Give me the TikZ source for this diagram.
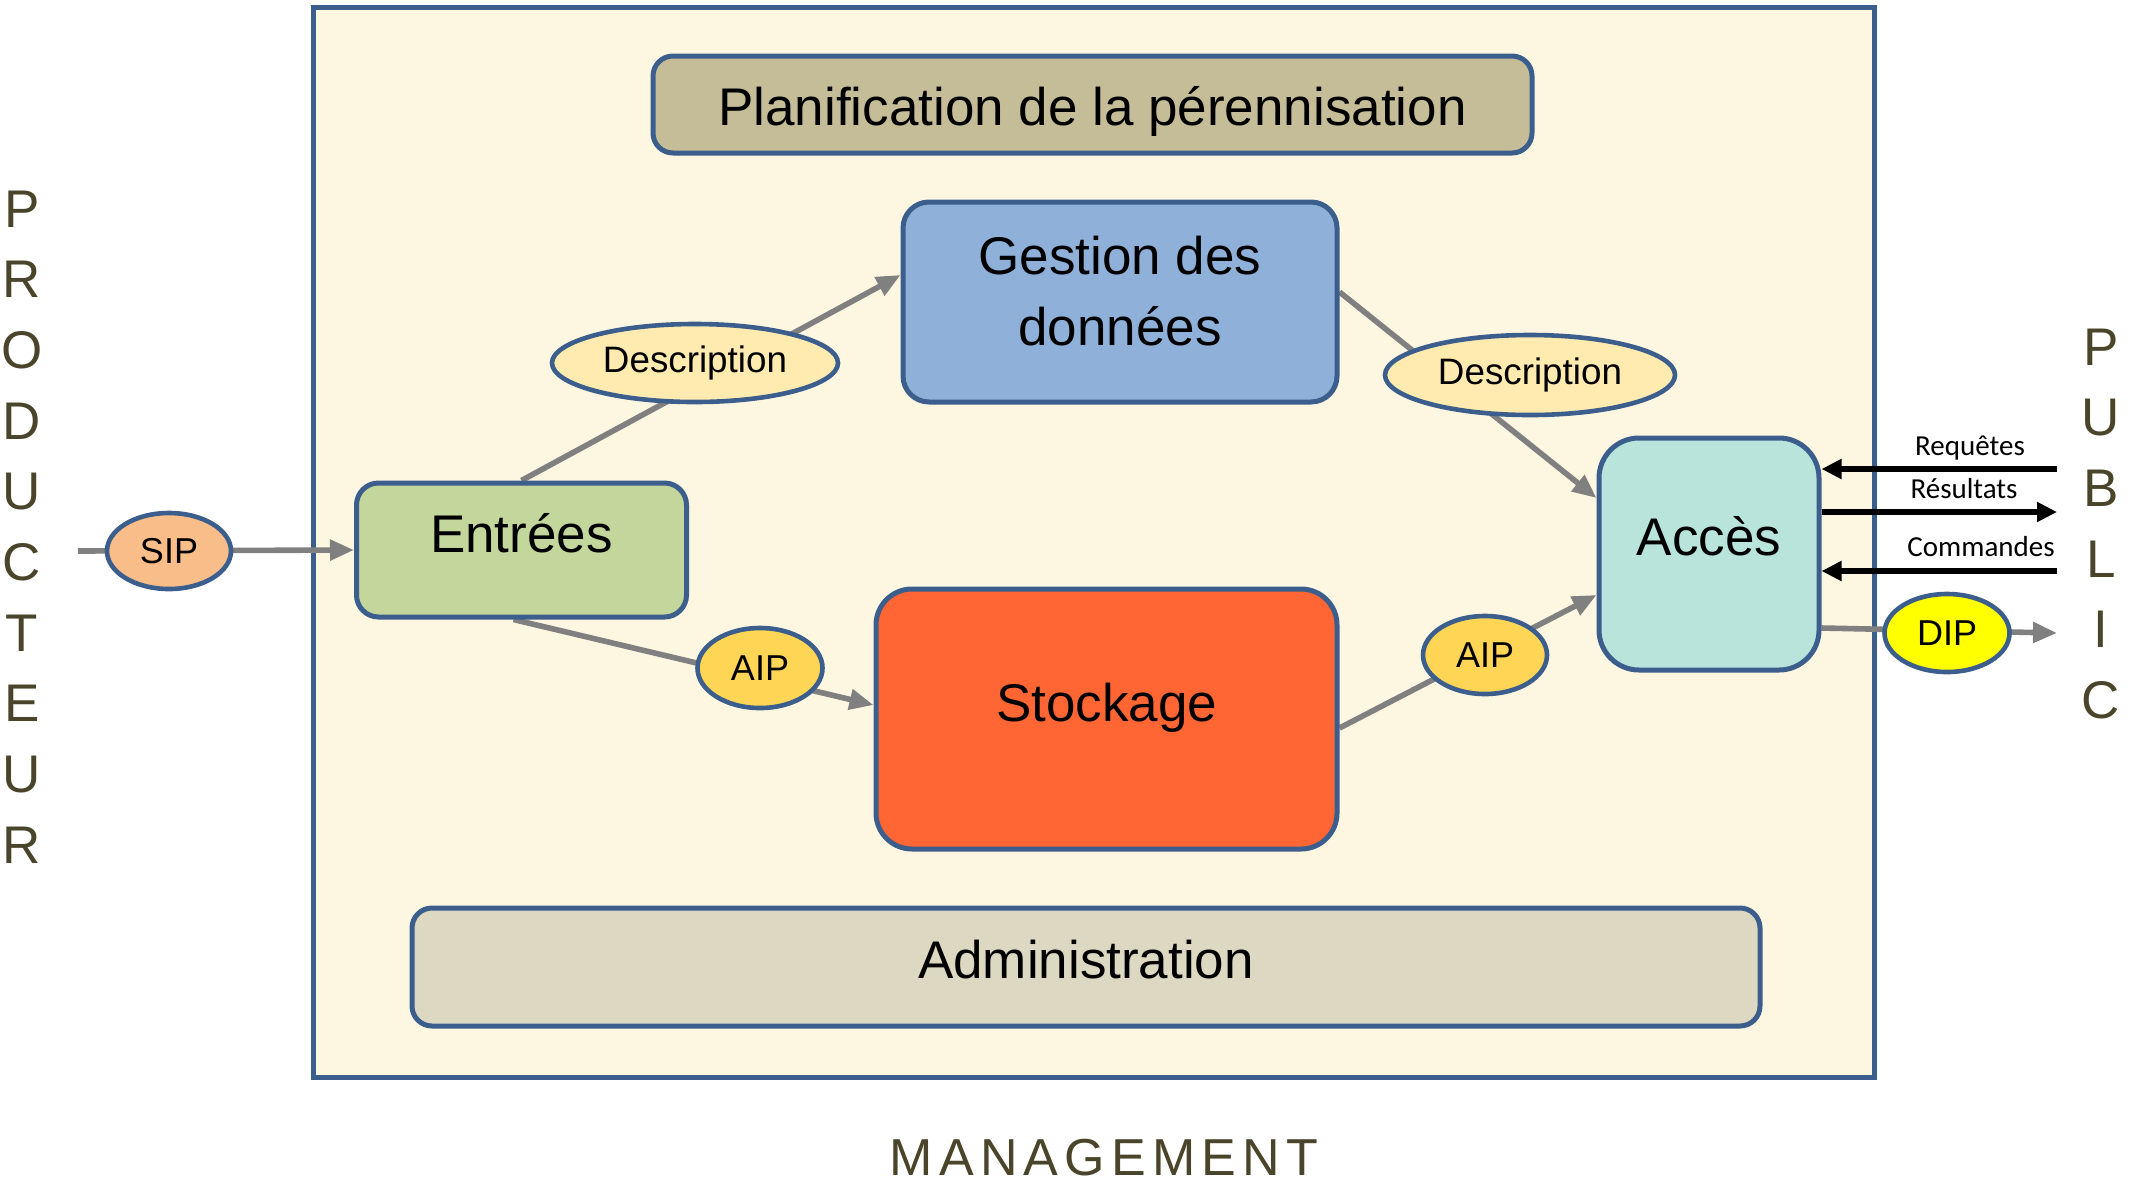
\documentclass[tikz,border=0pt]{standalone}
\usepackage{fontspec}
\setmainfont{Liberation Sans}
\newfontfamily\labelfont{Carlito}
\usetikzlibrary{arrows.meta,shapes.geometric}
\definecolor{frameblue}{HTML}{3B5E8C}
\definecolor{cream}{HTML}{FDF7E1}
\definecolor{planifc}{HTML}{C4BD97}
\definecolor{gestionc}{HTML}{8FB0D8}
\definecolor{entreesc}{HTML}{C3D69B}
\definecolor{stockc}{HTML}{FF6633}
\definecolor{accesc}{HTML}{B8E4DC}
\definecolor{adminc}{HTML}{DDD8C1}
\definecolor{descc}{HTML}{FFEBB0}
\definecolor{aipc}{HTML}{FFD556}
\definecolor{sipc}{HTML}{F9BD8A}
\definecolor{dipc}{HTML}{FFFF00}
\definecolor{olive}{HTML}{4A452A}
\definecolor{arrowgray}{HTML}{808080}
\newcommand\raisetext[2]{\raisebox{#1}[\height][\depth]{#2}}
\pgfdeclarelayer{bg}
\pgfdeclarelayer{edges}
\pgfsetlayers{bg,edges,main}
\tikzset{
  box/.style={draw=frameblue, line width=2.5pt, rounded corners=#1, inner sep=0pt,
    font=\fontsize{26.5}{35.5}\selectfont, align=center},
  box/.default=10pt,
  oval/.style={ellipse, draw=frameblue, line width=2.3pt, inner sep=0pt,
    font=\fontsize{18}{20}\selectfont},
  garrow/.style={draw=arrowgray, line width=2.8pt, -{Triangle[length=12pt,width=10pt]}},
  barrow/.style={draw=black, line width=3pt, -{Triangle[length=10pt,width=9.5pt]}},
  letter/.style={text=olive, font=\fontsize{26.5}{30}\selectfont, anchor=base, inner sep=0pt},
  flowlabel/.style={font=\labelfont\fontsize{14.5}{16}\selectfont, anchor=base, inner sep=0pt}
}
\begin{document}
\begin{tikzpicture}[x=0.5pt,y=-0.5pt]
\useasboundingbox (0,0) rectangle (2134,1184);
\begin{pgfonlayer}{bg}
  \draw[draw=frameblue, fill=cream, line width=2.5pt] (313,7) rectangle (1874,1077);
\end{pgfonlayer}

% boxes
\node[box=10pt, fill=planifc, minimum width=439.5pt, minimum height=48.5pt] (planif) at (1092.5,104.5) {\raisetext{-3.5pt}{Planification de la pérennisation}};
\node[box=13pt, fill=gestionc, minimum width=217pt, minimum height=100pt] (gestion) at (1120,302)
  {\raisebox{3pt}[\height][\depth]{\begin{tabular}{@{}c@{}}Gestion des\\données\end{tabular}}};
\node[box=11pt, fill=entreesc, minimum width=165pt, minimum height=67pt] (entrees) at (521.5,550) {\raisetext{8.5pt}{Entrées}};
\node[box=18pt, fill=stockc, minimum width=230.5pt, minimum height=130pt] (stockage) at (1106.5,719) {\raisetext{5.5pt}{Stockage}};
\node[box=20pt, fill=accesc, minimum width=110pt, minimum height=116pt] (acces) at (1709,554) {\raisetext{9pt}{Accès}};
\node[box=10pt, fill=adminc, minimum width=674pt, minimum height=59pt] (admin) at (1086,967) {\raisetext{3.5pt}{Administration}};

% ellipses
\node[oval, fill=descc, font=\fontsize{18.4}{20}\selectfont, minimum width=143pt, minimum height=39pt] (desc1) at (695,363) {Description};
\node[oval, fill=descc, font=\fontsize{18.4}{20}\selectfont, minimum width=145pt, minimum height=40pt] (desc2) at (1530,375) {Description};
\node[oval, fill=sipc, minimum width=62pt, minimum height=38pt] (sip) at (169,551) {SIP};
\node[oval, fill=aipc, minimum width=62.5pt, minimum height=40pt] (aip1) at (760,668) {AIP};
\node[oval, fill=aipc, minimum width=62pt, minimum height=39pt] (aip2) at (1485,655) {AIP};
\node[oval, fill=dipc, minimum width=62.5pt, minimum height=39pt] (dip) at (1947,633) {DIP};

% free ends
\coordinate (sipstart) at (78,551);
\coordinate (dipend) at (2057,633);
\coordinate (req) at (2057,469);
\coordinate (res) at (2057,512);
\coordinate (cmd) at (2057,571);

\begin{pgfonlayer}{edges}
  \draw[garrow] (sipstart) -- (entrees.west);
  \draw[garrow] (entrees.north) -- ([yshift=13.5pt]gestion.west);
  \draw[garrow] ([yshift=5pt]gestion.east) -- ([yshift=28pt]acces.west);
  \draw[garrow] ([xshift=-4pt]entrees.south) -- ([yshift=7pt]stockage.west);
  \draw[garrow] ([yshift=-4.5pt]stockage.east) -- ([yshift=-20.5pt]acces.west);
  \draw[garrow] ([yshift=-37pt]acces.east) -- (dipend);
\end{pgfonlayer}

\draw[barrow] (req) -- ([yshift=42.5pt]acces.east);
\draw[barrow] ([yshift=21pt]acces.east) -- (res);
\draw[barrow] (cmd) -- ([yshift=-8.5pt]acces.east);
\node[flowlabel] (lreq) at (1970,455) {Requêtes};
\node[flowlabel] (lres) at (1964,498) {Résultats};
\node[flowlabel] (lcmd) at (1981,556) {Commandes};

% side words
\foreach \l [count=\i] in {P,R,O,D,U,C,T,E,U,R}
  \node[letter] (prod\i) at (22, 227+70.7*\i-70.7) {\l};
\foreach \l [count=\i] in {P,U,B,L,I,C}
  \node[letter] (pub\i) at (2101, 365+70.7*\i-70.7) {\l};
\node[letter, font={\fontsize{26}{30}\selectfont\addfontfeature{LetterSpace=12}}] (mgmt) at (1104,1175) {MANAGEMENT};
\end{tikzpicture}
\end{document}
